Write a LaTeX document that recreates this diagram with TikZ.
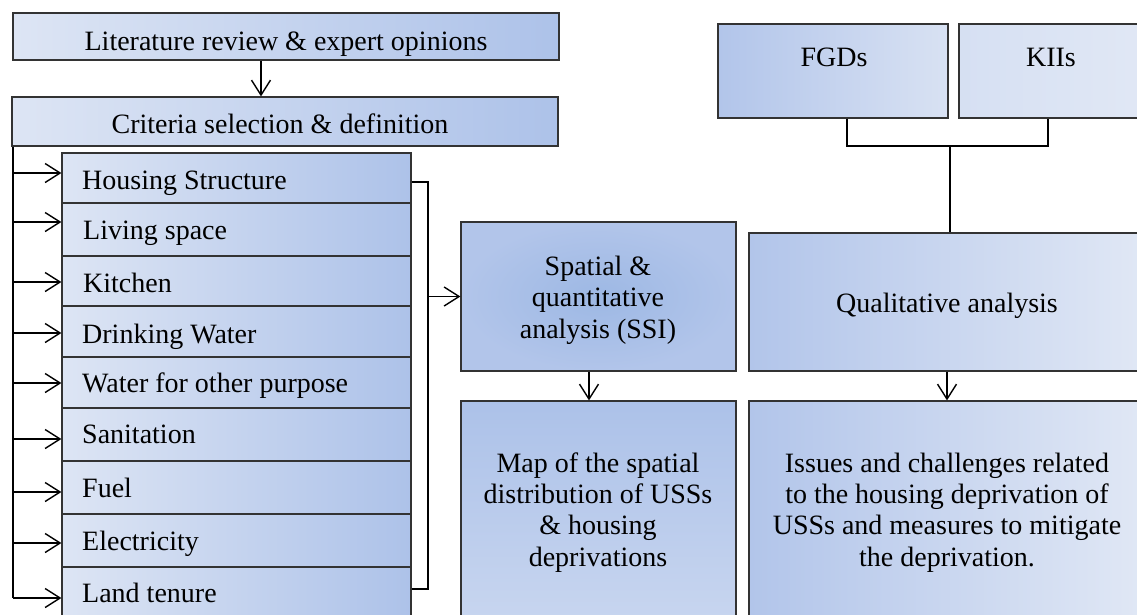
\documentclass[tikz,border=0pt]{standalone}
\usepackage{fontspec}
\setmainfont{Liberation Serif}
\usetikzlibrary{arrows.meta,fit}
\definecolor{lightb}{HTML}{DDE5F4}
\definecolor{darkb}{HTML}{ADC2E9}
\definecolor{midb}{HTML}{9DB8E4}
\definecolor{edgeb}{HTML}{B2C5EA}
\definecolor{palest}{HTML}{E1E8F5}
\definecolor{lineg}{HTML}{333333}
\tikzset{
  box/.style={draw=lineg, line width=1.2pt, inner sep=0pt},
  lrbox/.style={box, left color=lightb, right color=darkb},
  rlbox/.style={box, left color=edgeb, right color=palest},
  radbox/.style={box, inner color=midb, outer color=edgeb},
  tbbox/.style={box, top color=darkb!95!midb, bottom color=lightb!60!darkb},
  conn/.style={line width=1.4pt, black},
  arr/.style={conn, -{Straight Barb[length=15pt,width=19pt]}},
  txt/.style={inner sep=0pt, font=\fontsize{28}{31.3}\selectfont}
}
\begin{document}
\begin{tikzpicture}[x=1pt,y=-1pt]
\useasboundingbox (0,0) rectangle (1137,614);
\clip (0,0) rectangle (1137,614);
% top-left chain
\node[lrbox, fit={(13,13) (559,60)}] (lit) {};
\node[lrbox, fit={(12,97) (558,146)}] (crit) {};
\node[txt, anchor=base] (litt) at (286,50) {Literature review \& expert opinions};
\node[txt, anchor=base] (critt) at (280,133) {Criteria selection \& definition};
% criteria items
\node[lrbox, fit={(62,153) (411,203)}] (i1) {};
\node[lrbox, fit={(62,203) (411,256)}] (i2) {};
\node[lrbox, fit={(62,256) (411,306)}] (i3) {};
\node[lrbox, fit={(62,306) (411,357)}] (i4) {};
\node[lrbox, fit={(62,357) (411,408)}] (i5) {};
\node[lrbox, fit={(62,408) (411,461)}] (i6) {};
\node[lrbox, fit={(62,461) (411,514)}] (i7) {};
\node[lrbox, fit={(62,514) (411,567)}] (i8) {};
\node[lrbox, fit={(62,567) (411,640)}] (i9) {};
\node[txt, anchor=base west] (t1) at (82,189) {Housing Structure};
\node[txt, anchor=base west] (t2) at (83,239) {Living space};
\node[txt, anchor=base west] (t3) at (83,292) {Kitchen};
\node[txt, anchor=base west] (t4) at (82,343) {Drinking Water};
\node[txt, anchor=base west] (t5) at (82,392) {Water for other purpose};
\node[txt, anchor=base west] (t6) at (82,443) {Sanitation};
\node[txt, anchor=base west] (t7) at (82,497) {Fuel};
\node[txt, anchor=base west] (t8) at (82,550) {Electricity};
\node[txt, anchor=base west] (t9) at (82,602) {Land tenure};
% middle column
\node[radbox, fit={(461,222) (736,371)}] (ssi) {};
\node[tbbox, fit={(461,401) (736,640)}] (map) {};
\node[txt, anchor=base, align=center] (ssit) at (598,338) {Spatial \&\\quantitative\\analysis (SSI)};
\node[txt, anchor=base, align=center] (mapt) at (598,566) {Map of the spatial\\distribution of USSs\\\& housing\\deprivations};
% right column
\node[box, left color=edgeb, right color=lightb!90!darkb, fit={(718,24) (948,118)}] (fgd) {};
\node[box, left color=lightb!85!darkb, right color=palest, fit={(959,24) (1150,118)}] (kii) {};
\node[rlbox, fit={(749,233) (1150,371)}] (qual) {};
\node[rlbox, fit={(749,401) (1150,640)}] (iss) {};
\node[txt, anchor=base] (fgdt) at (834,66) {FGDs};
\node[txt, anchor=base] (kiit) at (1051,66) {KIIs};
\node[txt, anchor=base] (qualt) at (947,312) {Qualitative analysis};
\node[txt, anchor=base, align=center] (isst) at (947,566) {Issues and challenges related\\to the housing deprivation of\\USSs and measures to mitigate\\the deprivation.};
% connectors
\coordinate (ax) at (261,0);
\draw[arr] (lit.south -| ax) -- (crit.north -| ax);
\coordinate (l1) at (13,173);
\coordinate (l2) at (13,222);
\coordinate (l3) at (13,282);
\coordinate (l4) at (13,333);
\coordinate (l5) at (13,383);
\coordinate (l6) at (13,439);
\coordinate (l7) at (13,492);
\coordinate (l8) at (13,543);
\coordinate (l9) at (13,598);
\draw[conn] (crit.south west -| l9) -- (l9);
\draw[arr] (l9) -- (l9 -| i9.west);
\foreach \k in {1,...,8} {\draw[arr] (l\k) -- (l\k -| i\k.west);}
\coordinate (b1) at (428,182);
\coordinate (b2) at (428,589);
\draw[conn] (b1 -| i1.east) -- (b1) -- (b2) -- (b2 -| i9.east);
\draw[arr] (b1 |- ssi.west) -- (ssi.west);
\coordinate (sx) at (589,0);
\draw[arr] (ssi.south -| sx) -- (map.north -| sx);
\coordinate (qx) at (947,0);
\draw[arr] (qual.south -| qx) -- (iss.north -| qx);
\coordinate (fx) at (847,0);
\coordinate (kx) at (1048,0);
\coordinate (jy) at (950,146);
\draw[conn] (fgd.south -| fx) -- (fx |- jy) -- (kx |- jy) -- (kii.south -| kx);
\draw[conn] (jy) -- (qual.north -| jy);
\end{tikzpicture}
\end{document}
